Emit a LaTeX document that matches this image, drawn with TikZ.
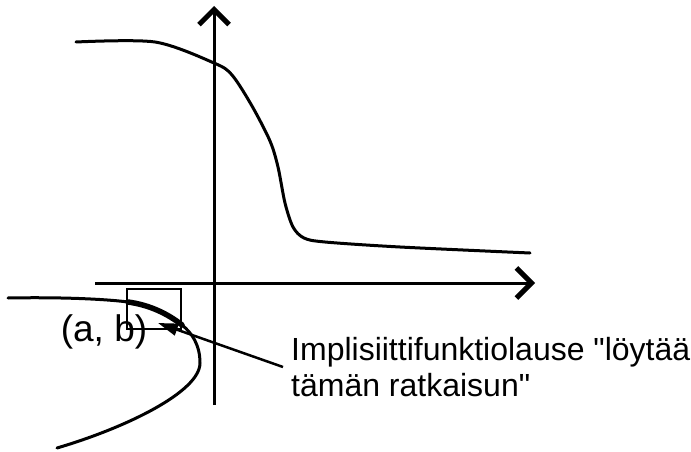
\documentclass[tikz,border=0pt]{standalone}
\usepackage{fontspec}
\newfontfamily\notefont{Liberation Sans}
\setmainfont{Liberation Sans}
\usetikzlibrary{arrows.meta}

\begin{document}
\begin{tikzpicture}[
  x=1pt, y=-1pt,
  axis/.style={line width=3pt, -{Straight Barb[length=15pt, width=30pt, line width=5pt]}},
  curve/.style={line width=3pt, line cap=round},
  thickpart/.style={line width=5.5pt, line cap=round},
  window/.style={draw, line width=1.8pt},
  pointer/.style={line width=2.5pt, -{Triangle[length=20pt, width=12pt]}},
  lbl/.style={font=\notefont\fontsize{32}{36}\selectfont, align=left, inner sep=0pt}
]
  \useasboundingbox (0,0) rectangle (691,452);

  % Axes
  \coordinate (xs) at (95,283);
  \coordinate (xe) at (535,283);
  \coordinate (ys) at (214,405);
  \coordinate (ye) at (214,6);
  \draw[axis] (xs) -- (xe);
  \draw[axis] (ys) -- (ye);

  % Upper branch
  \draw[curve] plot[smooth, tension=0.5] coordinates {
    (76,42) (155,42) (214,63) (232,75) (252,106) (270,141) (278,167)
    (285,203) (293,227) (304,238) (325,242) (400,247) (530,253)};

  % Lower branch, thick part near (a, b)
  \draw[curve] (8,298) .. controls (60,297) and (105,299) .. (128,302);
  \draw[thickpart] (128,302) .. controls (150,305) and (168,314) .. (182,325);
  \draw[curve] (182,325) .. controls (192,333) and (200,345) .. (200,363)
               .. controls (200,392) and (125,428) .. (57,448);

  % Neighbourhood box and point
  \draw[window] (127,289) rectangle (181,329);
  \node[font=\fontsize{37}{40}\selectfont, inner sep=0pt] (ab) at (104,332) {(a, b)};

  % Annotation
  \node[lbl, anchor=north west] (note) at (291,337)
    {Implisiittifunktiolause "löytää\\tämän ratkaisun"};
  \coordinate (from) at (283,367);
  \coordinate (to) at (158,323);
  \draw[pointer] (from) -- (to);
\end{tikzpicture}
\end{document}
